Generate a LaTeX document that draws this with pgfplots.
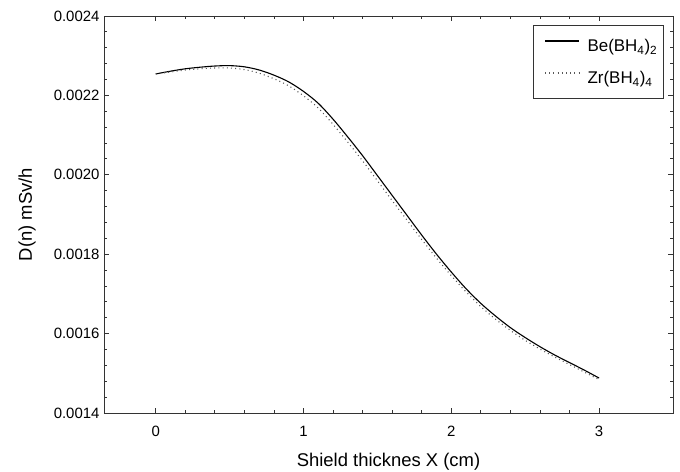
\documentclass[border=0pt]{standalone}
\usepackage{pgfplots}
\pgfplotsset{compat=1.18}
\usepackage{fontspec}
\setmainfont{Liberation Sans}

% Dose rate behind the shield, two borohydride materials
\begin{document}
\begin{tikzpicture}
\useasboundingbox (-104bp,-59bp) rectangle (576bp,413bp);
\begin{axis}[
  name=ax,
  scale only axis,
  width=569bp, height=397bp,
  xmin=-0.35, xmax=3.5,
  ymin=0.0014, ymax=0.0024,
  xtick={0,1,2,3},
  ytick={0.0014,0.0016,0.0018,0.0020,0.0022,0.0024},
  minor x tick num=4,
  minor y tick num=4,
  tick align=inside,
  major tick length=5bp,
  minor tick length=3bp,
  scaled y ticks=false,
  axis line style={draw=black!80, line width=0.9bp},
  every tick/.style={draw=black!80, line width=0.9bp},
  tick label style={font=\fontsize{15}{17}\selectfont},
  label style={font=\fontsize{18.5}{21}\selectfont},
  /pgf/number format/assume math mode=true,
  yticklabel style={/pgf/number format/fixed, /pgf/number format/fixed zerofill, /pgf/number format/precision=4, xshift=-1bp},
  xticklabel style={anchor=base, yshift=-23bp},
  xlabel={Shield thicknes X (cm)},
  ylabel={D(n) mSv/h},
  xlabel style={at={(axis description cs:0.5,-0.1360)}, anchor=base},
  ylabel style={at={(axis description cs:-0.12654,0.5)}, anchor=base},
  legend cell align=left,
  legend style={at={(0.7540,0.9773)}, anchor=north west, draw=black!80, line width=0.9bp,
    font=\fontsize{17}{20}\selectfont, inner xsep=6bp, inner ysep=12bp,
    row sep=15bp, column sep=8bp,
    nodes={inner sep=0bp, text height=14bp, text depth=3bp}},
  legend image code/.code={\path (0bp,0bp); \draw[#1] (5bp,5bp) -- (39bp,5bp);},
]
\addplot[black, line width=1.1bp, smooth] table {
x y
0.0 0.002254
0.1 0.002261
0.2 0.002267
0.3 0.002271
0.4 0.002274
0.5 0.002275
0.6 0.002272
0.7 0.002264
0.8 0.002251
0.9 0.002234
1.0 0.002210
1.1 0.002180
1.2 0.002140
1.3 0.002095
1.4 0.002048
1.5 0.001998
1.6 0.001948
1.7 0.001898
1.8 0.001848
1.9 0.001800
2.0 0.001755
2.1 0.001713
2.2 0.001676
2.3 0.001644
2.4 0.001615
2.5 0.001590
2.6 0.001567
2.7 0.001546
2.8 0.001527
2.9 0.001508
3.0 0.001488
};
\addlegendentry{Be(BH\textsubscript{4})\textsubscript{2}}
\addplot[black!65, line width=1.1bp, dash pattern=on 1bp off 3.2bp, smooth] table {
x y
0.0 0.002254
0.1 0.002259
0.2 0.002264
0.3 0.002267
0.4 0.002269
0.5 0.002269
0.6 0.002265
0.7 0.002256
0.8 0.002242
0.9 0.002224
1.0 0.002199
1.1 0.002168
1.2 0.002127
1.3 0.002082
1.4 0.002035
1.5 0.001985
1.6 0.001935
1.7 0.001886
1.8 0.001837
1.9 0.001790
2.0 0.001746
2.1 0.001705
2.2 0.001668
2.3 0.001636
2.4 0.001608
2.5 0.001583
2.6 0.001561
2.7 0.001541
2.8 0.001522
2.9 0.001503
3.0 0.001484
};
\addlegendentry{Zr(BH\textsubscript{4})\textsubscript{4}}
\end{axis}
\end{tikzpicture}
\end{document}
